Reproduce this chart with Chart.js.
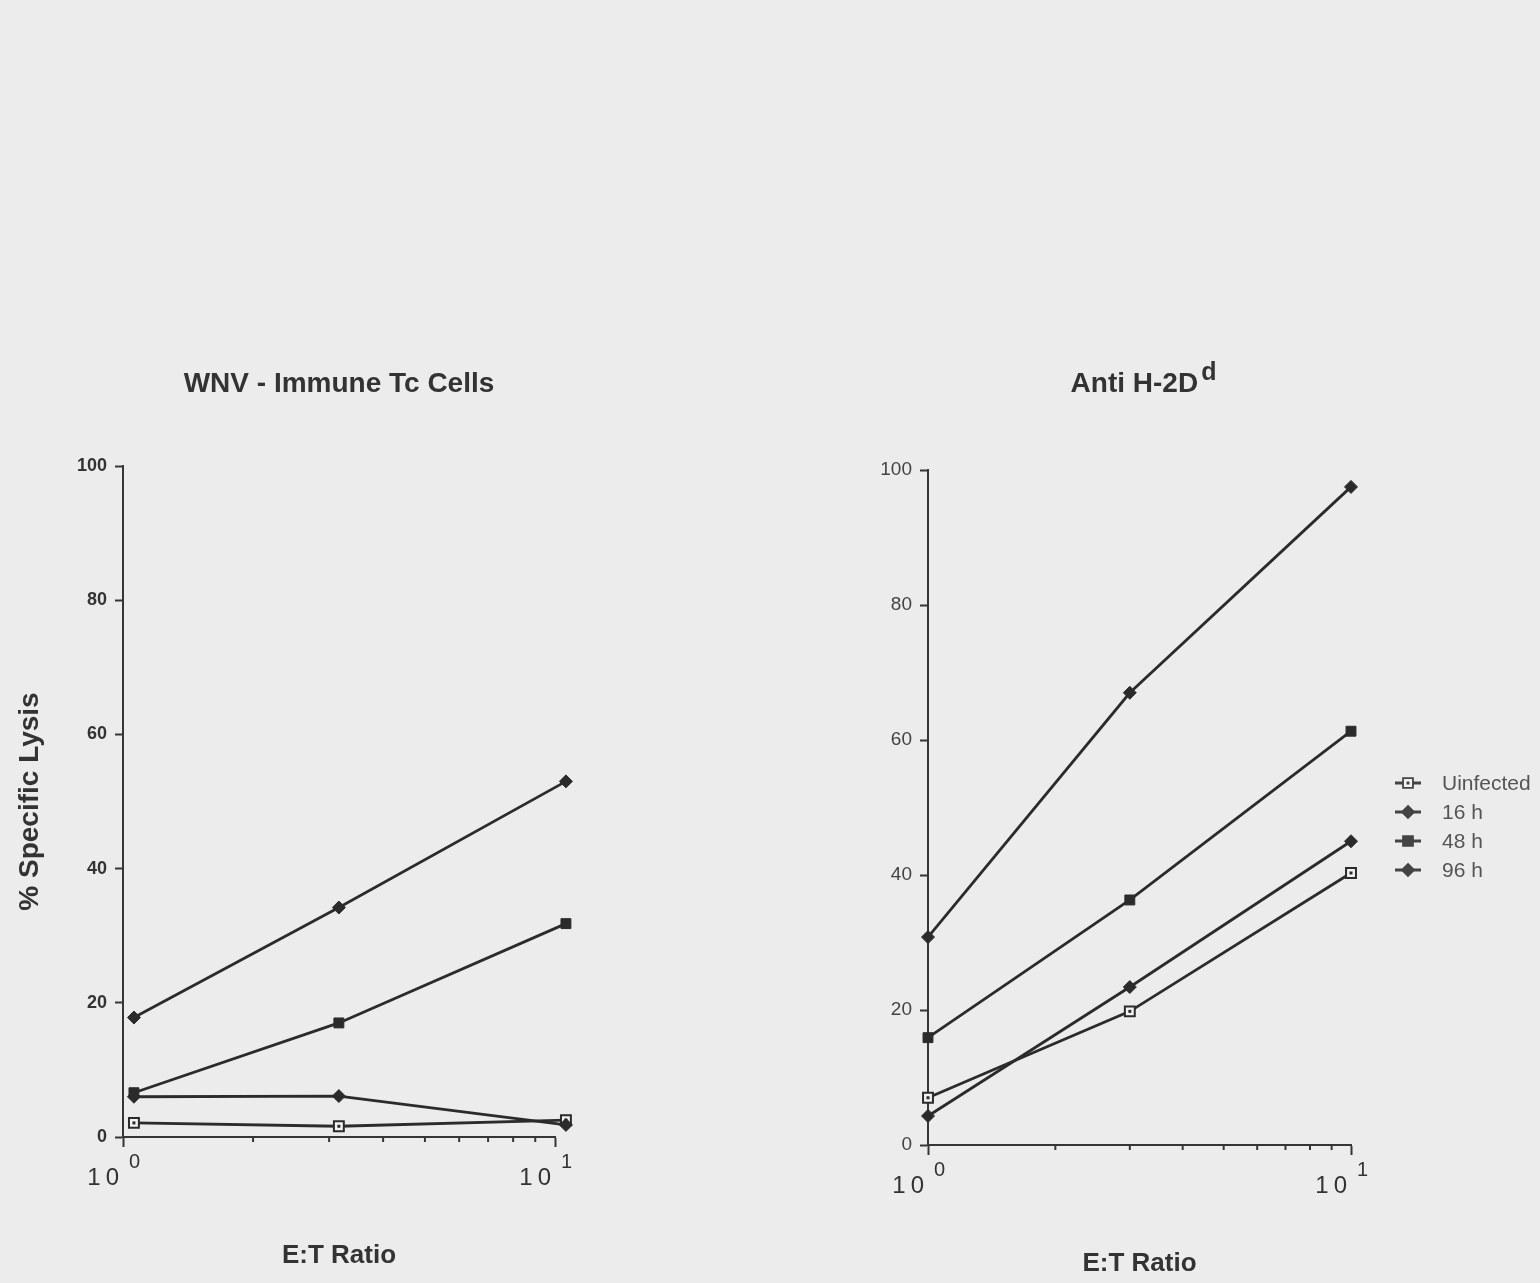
<!DOCTYPE html>
<html><head><meta charset="utf-8">
<script src="https://cdn.jsdelivr.net/npm/chart.js@4.4.1/dist/chart.umd.min.js"></script>
<style>
html,body{margin:0;padding:0;background:#ececec;width:1540px;height:1283px;overflow:hidden}
canvas{position:absolute;top:0}
#c1{left:0}
#c2{left:770px}
</style></head><body>
<canvas id="c1" width="770" height="1283"></canvas>
<canvas id="c2" width="770" height="1283"></canvas>
<script>
// ---- data ----
const seriesNames = ['Uninfected', '16 h', '48 h', '96 h'];
const legendLabels = ['Uinfected', '16 h', '48 h', '96 h'];
const leftX = [1.06, 3.16, 10.6];
const rightX = [1, 3, 10];
const leftUninfected = [2.1, 1.6, 2.5];
const left16h = [6.0, 6.1, 1.8];
const left48h = [6.6, 17.0, 31.8];
const left96h = [17.8, 34.2, 53.0];
const rightUninfected = [7.0, 19.8, 40.3];
const right16h = [4.3, 23.4, 45.0];
const right48h = [15.9, 36.3, 61.3];
const right96h = [30.8, 67.0, 97.5];
const yTicks = [0, 20, 40, 60, 80, 100];
const xMajorTicks = [1, 10];
const xMinorTicks = [2, 3, 4, 5, 6, 7, 8, 9];
const xTickBase = '10';
const xTickExponents = ['0', '1'];
const leftTitle = 'WNV - Immune Tc Cells';
const rightTitleMain = 'Anti H-2D';
const rightTitleSup = 'd';
const xTitle = 'E:T Ratio';
const yTitle = '% Specific Lysis';

// ---- styles ----
const FAM = '"Liberation Sans", Arial, Helvetica, sans-serif';
const LINE = '#2b2b2b';
const AXIS = '#363636';
Chart.defaults.font.family = FAM;

const markerStyles = [
  {pointStyle: 'rect', pointRadius: 7, pointBackgroundColor: '#f2f2f2', pointBorderWidth: 2},
  {pointStyle: 'rectRot', pointRadius: 6.5, pointBackgroundColor: LINE, pointBorderWidth: 1},
  {pointStyle: 'rect', pointRadius: 7, pointBackgroundColor: LINE, pointBorderWidth: 1},
  {pointStyle: 'rectRot', pointRadius: 6.5, pointBackgroundColor: LINE, pointBorderWidth: 1}
];

function makeDatasets(xs, arrays) {
  return arrays.map((arr, i) => Object.assign({
    label: seriesNames[i],
    data: arr.map((v, j) => ({x: xs[j], y: v})),
    borderColor: LINE,
    borderWidth: 2.8,
    pointBorderColor: LINE,
    tension: 0,
    clip: false
  }, markerStyles[i]));
}

function makeScales(isLeft, W, H, titlePadBottom) {
  const tickFont = isLeft ? {size: 18, weight: 'bold'} : {size: 19, weight: 'normal'};
  return {
    x: {
      type: 'logarithmic', min: 1, max: 10,
      afterBuildTicks(s) { s.ticks = xMajorTicks.map(v => ({value: v})); },
      ticks: {display: false},
      grid: {display: true, drawOnChartArea: false, drawTicks: true, tickLength: 10, tickWidth: 2, tickColor: AXIS},
      border: {display: true, color: AXIS, width: 2},
      title: {display: true, text: xTitle, color: '#333', font: {size: 26, weight: 'bold'}, padding: {top: 0, bottom: titlePadBottom}},
      afterFit(s) { s.height = H; }
    },
    y: {
      min: 0, max: 100,
      afterBuildTicks(s) { s.ticks = yTicks.map(v => ({value: v})); },
      ticks: {font: tickFont, color: isLeft ? '#333' : '#444', padding: 8},
      grid: {display: true, drawOnChartArea: false, drawTicks: true, tickLength: 8, tickWidth: 2, tickColor: AXIS},
      border: {display: true, color: AXIS, width: 2},
      title: isLeft ? {display: true, text: yTitle, color: '#333', font: {size: 28, weight: 'bold'}, padding: 0} : {display: false},
      afterFit(s) { s.width = W; }
    }
  };
}

function drawMarker(ctx, style, x, y, r) {
  ctx.beginPath();
  if (style === 'rectRot') {
    ctx.moveTo(x, y - r); ctx.lineTo(x + r, y); ctx.lineTo(x, y + r); ctx.lineTo(x - r, y); ctx.closePath();
  } else {
    const h = r * Math.SQRT1_2;
    ctx.rect(x - h, y - h, 2 * h, 2 * h);
  }
}

function decorPlugin(opts) {
  return {
    id: 'decor',
    afterDatasetsDraw(chart) {
      const ctx = chart.ctx;
      const area = chart.chartArea;
      ctx.save();
      // markers that fall just outside the plotting area (Chart.js skips them)
      chart.data.datasets.forEach((ds, i) => {
        const meta = chart.getDatasetMeta(i);
        meta.data.forEach(p => {
          if (p.x > area.right + 0.5 || p.x < area.left - 0.5) {
            drawMarker(ctx, ds.pointStyle, p.x, p.y, ds.pointRadius);
            ctx.fillStyle = ds.pointBackgroundColor; ctx.fill();
            ctx.lineWidth = ds.pointBorderWidth; ctx.strokeStyle = ds.pointBorderColor; ctx.stroke();
          }
        });
      });
      // inner dot for open squares (Uninfected)
      ctx.fillStyle = LINE;
      chart.getDatasetMeta(0).data.forEach(p => { ctx.fillRect(p.x - 1.5, p.y - 1.5, 3, 3); });
      ctx.restore();
    },
    afterDraw(chart) {
      const {ctx, chartArea} = chart;
      const xs = chart.scales.x;
      ctx.save();
      // minor ticks
      ctx.strokeStyle = AXIS; ctx.lineWidth = 2;
      xMinorTicks.forEach(v => {
        const px = xs.getPixelForValue(v);
        ctx.beginPath(); ctx.moveTo(px, chartArea.bottom); ctx.lineTo(px, chartArea.bottom + 5); ctx.stroke();
      });
      // x tick labels 10^n
      ctx.fillStyle = '#333';
      xMajorTicks.forEach((v, i) => {
        const px = xs.getPixelForValue(v);
        ctx.font = '24px ' + FAM;
        ctx.letterSpacing = '5px';
        ctx.textAlign = 'right'; ctx.textBaseline = 'alphabetic';
        ctx.fillText(xTickBase, px + 1, chartArea.bottom + 48);
        ctx.letterSpacing = '0px';
        ctx.font = '20px ' + FAM;
        ctx.textAlign = 'left';
        ctx.fillText(xTickExponents[i], px + 6, chartArea.bottom + 31);
      });
      // panel title
      const cx = (chartArea.left + chartArea.right) / 2;
      ctx.fillStyle = '#333';
      ctx.textBaseline = 'alphabetic';
      if (opts.left) {
        ctx.font = 'bold 28px ' + FAM;
        ctx.textAlign = 'center';
        ctx.fillText(leftTitle, cx, 392);
      } else {
        ctx.font = 'bold 28px ' + FAM;
        const w1 = ctx.measureText(rightTitleMain).width;
        ctx.font = 'bold 25px ' + FAM;
        const w2 = ctx.measureText(rightTitleSup).width;
        const start = cx - (w1 + 3 + w2) / 2 + 4;
        ctx.textAlign = 'left';
        ctx.font = 'bold 28px ' + FAM;
        ctx.fillText(rightTitleMain, start, 392);
        ctx.font = 'bold 25px ' + FAM;
        ctx.fillText(rightTitleSup, start + w1 + 3, 380);
        // legend
        const rows = [783, 812, 841, 870];
        chart.data.datasets.forEach((ds, i) => {
          const y = rows[i];
          const sx = 638;
          ctx.strokeStyle = '#444'; ctx.lineWidth = 3;
          ctx.beginPath(); ctx.moveTo(sx - 13, y); ctx.lineTo(sx + 13, y); ctx.stroke();
          drawMarker(ctx, ds.pointStyle, sx, y, ds.pointStyle === 'rectRot' ? 6 : 7);
          ctx.fillStyle = i === 0 ? '#f2f2f2' : '#444';
          ctx.fill();
          ctx.lineWidth = 1.8; ctx.strokeStyle = '#444'; ctx.stroke();
          if (i === 0) { ctx.fillStyle = '#444'; ctx.fillRect(sx - 1.5, y - 1.5, 3, 3); }
          ctx.fillStyle = '#555';
          ctx.font = '21px ' + FAM;
          ctx.textAlign = 'left'; ctx.textBaseline = 'middle';
          ctx.fillText(legendLabels[i], 672, y + 1);
          ctx.textBaseline = 'alphabetic';
        });
      }
      ctx.restore();
    }
  };
}

function makeChart(id, xs, arrays, isLeft, padding, W, H, tpb) {
  return new Chart(document.getElementById(id), {
    type: 'line',
    data: {datasets: makeDatasets(xs, arrays)},
    options: {
      responsive: false, animation: false,
      layout: {padding: padding},
      plugins: {legend: {display: false}, tooltip: {enabled: false}, title: {display: false}},
      scales: makeScales(isLeft, W, H, tpb)
    },
    plugins: [decorPlugin({left: isLeft})]
  });
}

makeChart('c1', leftX, [leftUninfected, left16h, left48h, left96h], true,
  {left: 13, right: 215, top: 466, bottom: 0}, 110, 146, 12);
makeChart('c2', rightX, [rightUninfected, right16h, right48h, right96h], false,
  {left: 58, right: 189, top: 470, bottom: 0}, 100, 138, 4);
</script>
</body></html>
